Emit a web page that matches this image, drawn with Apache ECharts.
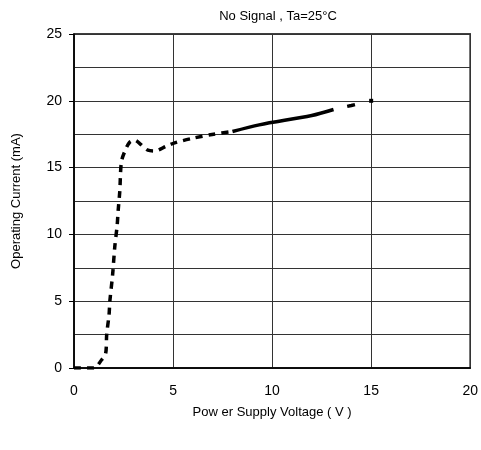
<!DOCTYPE html>
<html>
<head>
<meta charset="utf-8">
<script src="https://cdn.jsdelivr.net/npm/echarts@6/dist/echarts.min.js"></script>
<style>
  html, body { margin: 0; padding: 0; background: #fff; }
  #chart { width: 481px; height: 450px; }
</style>
</head>
<body>
<div id="chart"></div>
<script>
// Supply voltage (V) vs operating current (mA), no signal, Ta = 25°C
const voltageLow = [0, 1.0, 1.39, 1.6, 1.65, 1.77, 1.81, 1.95, 2.06, 2.18, 2.23, 2.31, 2.39, 2.56, 2.81, 3.07, 3.32, 3.73, 4.07, 4.66, 5.08, 6.0, 7.05, 8.0];
const currentLow = [0, 0, 0.6, 1.1, 2.5, 4.0, 5.0, 7.0, 9.1, 10.7, 11.8, 13.2, 15.4, 16.2, 16.9, 17.05, 16.8, 16.3, 16.25, 16.6, 16.85, 17.2, 17.5, 17.7];
const voltageMid = [8.0, 9.35, 12.0, 13.1];
const currentMid = [17.7, 18.2, 18.9, 19.35];
const voltageHigh = [13.1, 14.0, 15.0];
const currentHigh = [19.35, 19.65, 20.0];

const xTicks = [0, 5, 10, 15, 20];
const yTicks = [0, 5, 10, 15, 20, 25];

const pairs = (xs, ys) => xs.map((x, i) => [x, ys[i]]);

const font = 'Liberation Sans, Arial, sans-serif';
const chart = echarts.init(document.getElementById('chart'));

chart.setOption({
  animation: false,
  title: {
    text: 'No Signal , Ta=25°C',
    left: 273,
    textAlign: 'center',
    top: 5,
    textStyle: { fontFamily: font, fontSize: 13, fontWeight: 'normal', color: '#000' }
  },
  grid: { left: 74, right: 8, top: 34, bottom: 82, containLabel: false,
          show: true, borderColor: '#000', borderWidth: 1.5 },
  xAxis: {
    type: 'value',
    min: xTicks[0], max: xTicks[xTicks.length - 1], interval: 5,
    name: 'Pow er Supply Voltage ( V )',
    nameLocation: 'middle', nameGap: 38,
    nameTextStyle: { fontFamily: font, fontSize: 13, color: '#000' },
    axisLine: { show: true, lineStyle: { color: '#000', width: 1.5 } },
    axisTick: { show: false },
    axisLabel: { fontFamily: font, fontSize: 14, color: '#000', margin: 16 },
    splitLine: { show: true, lineStyle: { color: '#333', width: 1 } }
  },
  yAxis: {
    type: 'value',
    min: yTicks[0], max: yTicks[yTicks.length - 1], interval: 5,
    name: 'Operating Current (mA)',
    nameLocation: 'middle', nameGap: 51,
    nameTextStyle: { fontFamily: font, fontSize: 13, color: '#000' },
    axisLine: { show: true, lineStyle: { color: '#000', width: 1.5 } },
    axisTick: { show: true, length: 5, lineStyle: { color: '#000' } },
    axisLabel: { fontFamily: font, fontSize: 14, color: '#000', margin: 12 },
    splitLine: { show: true, lineStyle: { color: '#333', width: 1 } },
    minorTick: { show: false, splitNumber: 2 },
    minorSplitLine: { show: true, lineStyle: { color: '#333', width: 1 } }
  },
  series: [
    {
      type: 'line', smooth: 0.3, symbol: 'none',
      data: pairs(voltageLow, currentLow),
      lineStyle: { color: '#000', width: 3.5, type: [7, 6] }
    },
    {
      type: 'line', smooth: 0.3, symbol: 'none',
      data: pairs(voltageMid, currentMid),
      lineStyle: { color: '#000', width: 3.5, type: 'solid' }
    },
    {
      type: 'line', smooth: false,
      data: pairs(voltageHigh, currentHigh),
      symbol: (v, p) => p.dataIndex === voltageHigh.length - 1 ? 'rect' : 'none',
      symbolSize: 4,
      itemStyle: { color: '#000' },
      lineStyle: { color: '#000', width: 3.5, type: [0, 14, 8, 30] }
    }
  ]
});
</script>
</body>
</html>
